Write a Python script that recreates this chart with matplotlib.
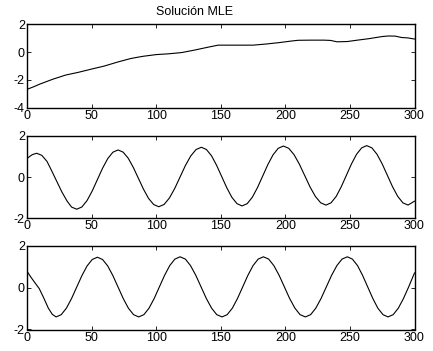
import matplotlib
matplotlib.use("Agg")
import matplotlib.pyplot as plt

plt.rcParams['font.family'] = ['Liberation Sans', 'DejaVu Sans']
plt.rcParams['axes.unicode_minus'] = False

title_text = "Solución MLE"
x_ticks = [0, 50, 100, 150, 200, 250, 300]

# Panel 1 (slowly rising curve)
x1 = [0, 5, 10, 20, 30, 40, 50, 60, 70, 80, 85, 90, 100, 110, 120, 130, 140, 148,
      160, 175, 185, 195, 205, 210, 220, 230, 235, 240, 248, 255, 265, 275, 280,
      285, 290, 295, 300]
y1 = [-2.68, -2.5, -2.3, -1.95, -1.65, -1.45, -1.22, -1.0, -0.72, -0.47, -0.38, -0.3,
      -0.18, -0.12, -0.03, 0.15, 0.35, 0.5, 0.5, 0.5, 0.58, 0.68, 0.8, 0.85, 0.86,
      0.86, 0.84, 0.74, 0.76, 0.85, 0.97, 1.12, 1.16, 1.15, 1.05, 1.02, 0.94]

# Panel 2 (oscillation)
x2 = [0, 4, 7.5, 11.5, 15.5, 19, 23, 27, 31, 34.5, 38.5,
      42.5, 46.5, 50.5, 54.5, 58.5, 62.5, 66.5, 70.5,
      74.4, 78.4, 82.3, 86.25, 90.2, 94.1, 98.1, 102,
      106.1, 110.25, 114.4, 118.5, 122.6, 126.75, 130.9, 135,
      138.9, 142.9, 146.8, 150.75, 154.7, 158.6, 162.6, 166.5,
      170.5, 174.5, 178.5, 182.5, 186.5, 190.5, 194.5, 198.5,
      202.6, 206.75, 210.9, 215, 219.1, 223.25, 227.4, 231.5,
      235.4, 239.4, 243.3, 247.25, 251.2, 255.1, 259.1, 263,
      267, 271, 275, 279, 283, 287, 291, 295, 300]
y2 = [0.9, 1.08, 1.15, 1.047, 0.753, 0.314, -0.205, -0.724, -1.163, -1.457, -1.56,
      -1.451, -1.14, -0.675, -0.125, 0.425, 0.89, 1.201, 1.31,
      1.205, 0.907, 0.462, -0.065, -0.592, -1.037, -1.335, -1.44,
      -1.331, -1.018, -0.552, 0.0, 0.552, 1.018, 1.331, 1.44,
      1.332, 1.024, 0.564, 0.02, -0.524, -0.984, -1.292, -1.40,
      -1.29, -0.975, -0.505, 0.05, 0.605, 1.075, 1.39, 1.50,
      1.391, 1.081, 0.618, 0.07, -0.478, -0.941, -1.251, -1.36,
      -1.251, -0.938, -0.472, 0.08, 0.632, 1.098, 1.411, 1.52,
      1.411, 1.098, 0.632, 0.08, -0.472, -0.938, -1.251, -1.36, -1.17]

# Panel 3 (oscillation)
x3 = [0, 3, 6.5, 9.5, 13, 16.5, 19.5, 22.5,
      26.5, 30.5, 34.5, 38.5, 42.5, 46.5, 50.5, 54.5,
      58.5, 62.5, 66.5, 70.5, 74.5, 78.5, 82.5, 86.5,
      90.5, 94.5, 98.5, 102.5, 106.5, 110.5, 114.5, 118.5,
      122.6, 126.6, 130.7, 134.75, 138.8, 142.9, 146.9, 151,
      155, 159, 163, 167, 171, 175, 179, 183,
      187.1, 191.1, 195.2, 199.25, 203.3, 207.4, 211.4, 215.5,
      219.6, 223.6, 227.7, 231.75, 235.8, 239.9, 243.9, 248,
      251.9, 255.9, 259.8, 263.75, 267.7, 271.6, 275.6, 279.5,
      283.5, 287.5, 291.5, 295.5, 300]
y3 = [0.78, 0.5, 0.2, -0.05, -0.5, -0.98, -1.27, -1.40,
      -1.292, -0.983, -0.521, 0.025, 0.571, 1.033, 1.342, 1.45,
      1.342, 1.033, 0.571, 0.025, -0.521, -0.983, -1.292, -1.40,
      -1.291, -0.98, -0.515, 0.035, 0.585, 1.05, 1.361, 1.47,
      1.361, 1.05, 0.585, 0.035, -0.515, -0.98, -1.291, -1.40,
      -1.291, -0.98, -0.515, 0.035, 0.585, 1.05, 1.361, 1.47,
      1.361, 1.05, 0.585, 0.035, -0.515, -0.98, -1.291, -1.40,
      -1.291, -0.98, -0.515, 0.035, 0.585, 1.05, 1.361, 1.47,
      1.361, 1.05, 0.585, 0.035, -0.515, -0.98, -1.291, -1.40,
      -1.291, -0.98, -0.515, 0.035, 0.70]

panels = [
    (x1, y1, (-4, 2), [-4, -2, 0, 2]),
    (x2, y2, (-2, 2), [-2, 0, 2]),
    (x3, y3, (-2, 2), [-2, 0, 2]),
]

W, H = 433, 351
fig = plt.figure(figsize=(W / 100, H / 100), dpi=100)
boxes = [(24.3, 107.7), (135.7, 218.3), (245.7, 329.5)]
left_px, right_px = 27.0, 414.5

fs = 9
for (xs, ys, ylim, yt), (top, bot) in zip(panels, boxes):
    ax = fig.add_axes([left_px / W, 1 - bot / H, (right_px - left_px) / W, (bot - top) / H])
    ax.plot(xs, ys, color='black', linewidth=0.8)
    ax.set_xlim(0, 300)
    ax.set_ylim(*ylim)
    ax.set_xticks(x_ticks)
    ax.set_yticks(yt)
    ax.tick_params(direction='in', length=3, width=0.6, top=True, right=True,
                   labelsize=fs, pad=1.5, colors='black')
    for s in ax.spines.values():
        s.set_linewidth(1.0)
        s.set_color('black')

fig.text(195 / W, 1 - 12 / H, title_text, ha='center', va='center', fontsize=fs)

fig.savefig("out.png", dpi=100)
